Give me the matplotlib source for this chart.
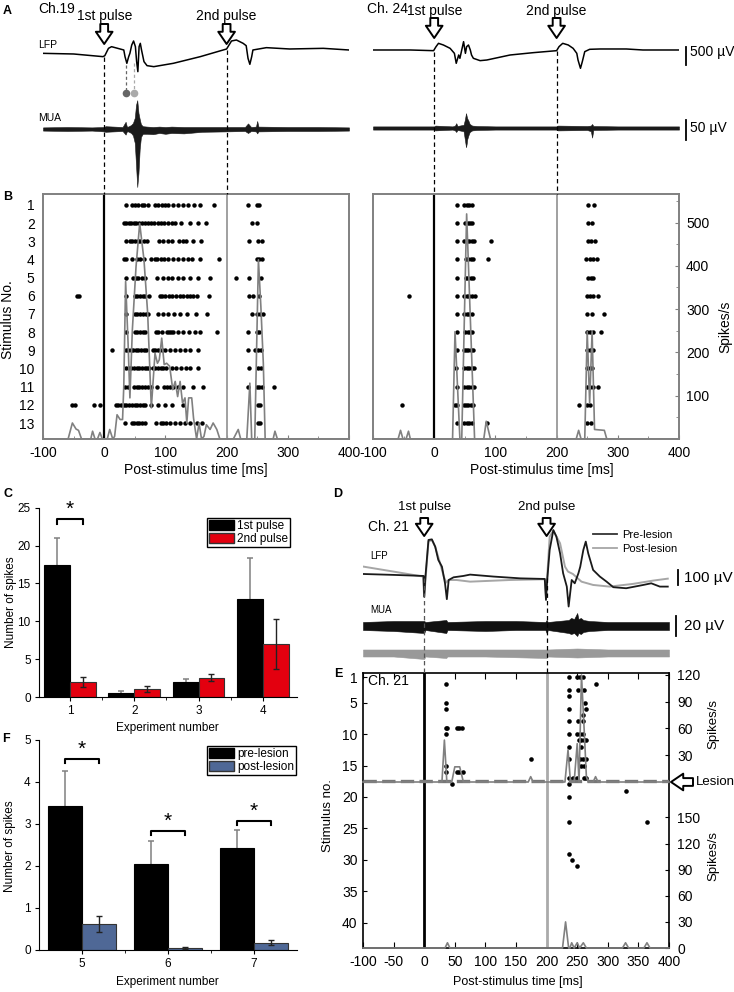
import matplotlib
matplotlib.use("Agg")
import matplotlib.pyplot as plt
import numpy as np
from matplotlib.patches import Patch
from matplotlib.lines import Line2D
from matplotlib.ticker import MultipleLocator

plt.rcParams['font.family'] = ['Liberation Sans', 'DejaVu Sans']
plt.rcParams['axes.unicode_minus'] = False

# ======================= DATA =======================
# Panel A: LFP traces (time in ms, amplitude in uV)
lfp19_t = [-100, -50, -2, 1, 7, 12, 26, 32, 34, 37, 40, 42, 45, 48, 51, 53, 55, 57, 59, 61, 65, 70, 81,
           113, 157, 200, 208, 216, 227, 232, 235, 238, 241, 243, 265, 303, 358, 400]
lfp19_v = [46, 28, -46, -19, 185, 231, 167, 139, -46, -231, -46, 46, 278, 389, 231, -185, -463, 231, 324,
           139, -185, -296, -324, -231, -46, 167, 389, 417, 324, 259, -93, -259, -46, 139, 204, 167, 185, 139]
lfp24_t = [-100, -39, -1, 3, 7, 15, 26, 33, 36, 40, 42, 45, 48, 51, 53, 56, 59, 61, 64, 75, 86, 124, 162,
           200, 204, 210, 219, 227, 233, 235, 239, 242, 246, 254, 271, 314, 341, 400]
lfp24_v = [0, 0, -19, 93, 185, 139, 46, -93, -370, -139, -231, 0, 231, -93, 93, 139, 0, -139, -231, -296,
           -278, -139, -74, -19, 93, 185, 139, 46, -93, -278, -509, -324, -46, 19, 28, 28, 0, 0]

# Panel A: MUA envelopes (uV)
mua19_t = [-100, -60, -20, 0, 2, 30, 35, 37, 39, 44, 47, 50, 52, 54, 56, 58, 60, 63, 70, 80, 90, 100, 110,
           130, 160, 200, 230, 235, 240, 248, 250, 252, 300, 350, 400]
mua19_hi = [4, 5, 4, 5, 7, 5, 18, 6, 6, 10, 15, 28, 60, 72, 40, 25, 12, 7, 6, 5, 6, 5, 6, 5, 5, 5, 5,
            14, 5, 6, 20, 6, 5, 5, 4]
mua19_lo = [-4, -5, -4, -6, -7, -5, -14, -6, -6, -10, -16, -35, -90, -145, -110, -50, -20, -12, -12, -13,
            -10, -12, -10, -11, -7, -6, -5, -10, -5, -6, -11, -6, -5, -5, -4]
mua24_t = [-100, -50, 0, 2, 30, 34, 36, 38, 48, 50, 52, 53, 54, 56, 58, 62, 70, 100, 150, 200, 202, 250,
           256, 258, 260, 300, 400]
mua24_hi = [4, 4, 4, 6, 4, 6, 12, 5, 8, 20, 37, 30, 24, 18, 10, 6, 5, 4, 4, 4, 6, 5, 6, 10, 5, 4, 4]
mua24_lo = [-4, -4, -4, -6, -4, -6, -10, -5, -8, -28, -48, -40, -28, -18, -10, -6, -5, -4, -4, -4, -6, -5,
            -8, -24, -5, -4, -4]
a_marker_times = [36, 49]

# Panel B: raster spike times (ms) per stimulus 1..13
b19_trials = [
    [35, 45, 50, 56, 61, 65, 72, 83, 88, 94, 99, 105, 113, 121, 129, 137, 146, 157, 180, 235, 249, 253],
    [32, 36, 40, 44, 48, 52, 57, 62, 66, 72, 77, 82, 88, 93, 98, 104, 110, 116, 126, 140, 153, 167, 242, 250],
    [35, 42, 46, 51, 55, 59, 65, 70, 90, 96, 104, 111, 122, 129, 134, 145, 158, 237, 251, 258],
    [32, 36, 46, 53, 58, 65, 77, 83, 87, 93, 98, 104, 113, 121, 129, 137, 143, 156, 187, 249, 253, 258],
    [36, 47, 52, 55, 61, 67, 86, 96, 104, 111, 121, 129, 140, 154, 173, 216, 237, 257],
    [-45, -41, 36, 50, 54, 58, 63, 67, 73, 91, 95, 100, 106, 110, 118, 124, 129, 135, 140, 145, 151, 172,
     237, 243, 253],
    [36, 50, 54, 58, 63, 68, 72, 88, 96, 104, 114, 124, 136, 150, 168, 241, 249, 254, 260],
    [36, 50, 54, 58, 63, 66, 84, 88, 94, 102, 106, 109, 113, 121, 129, 139, 148, 156, 184, 235, 249, 253],
    [13, 35, 39, 43, 47, 52, 55, 60, 65, 69, 79, 83, 88, 94, 99, 107, 115, 124, 132, 140, 154, 235, 246,
     251, 256],
    [35, 40, 44, 48, 53, 57, 61, 66, 70, 74, 79, 83, 88, 92, 96, 101, 110, 118, 126, 133, 140, 154, 237,
     251, 257],
    [34, 39, 48, 53, 57, 61, 66, 72, 77, 86, 97, 102, 107, 113, 121, 129, 145, 161, 235, 249, 253, 258, 277],
    [-52, -48, -17, -7, 19, 23, 28, 32, 36, 41, 45, 50, 54, 58, 63, 67, 77, 88, 99, 110, 129, 251, 255],
    [34, 45, 49, 53, 57, 61, 66, 84, 92, 96, 101, 107, 115, 124, 132, 141, 151, 159, 251, 255],
]
b24_trials = [
    [37, 49, 53, 57, 61, 251, 261],
    [37, 50, 55, 59, 62, 251, 258],
    [37, 49, 53, 57, 61, 65, 92, 251, 257, 262],
    [37, 52, 56, 60, 64, 88, 248, 254, 259, 266],
    [37, 52, 56, 60, 64, 251, 257, 260],
    [-41, 38, 49, 53, 57, 61, 66, 250, 255, 259, 268],
    [37, 49, 53, 57, 61, 250, 258, 277],
    [37, 50, 55, 59, 62, 250, 255, 259, 273],
    [37, 48, 52, 56, 60, 64, 250, 255, 259],
    [36, 49, 53, 57, 61, 65, 250, 254, 258],
    [37, 49, 53, 57, 61, 65, 250, 255, 259, 267],
    [-52, 34, 37, 48, 52, 56, 60, 64, 237, 250, 255],
    [37, 49, 53, 57, 61, 86, 250, 257],
]
# PSTHs (ms, spikes/s)
psth19_t = [-100, -59, -52, -46, -42, -37, -22, -19, -15, -11, -7, -3, 5, 9, 14, 17, 21, 26, 30, 32, 35, 39,
            42, 46, 52, 58, 65, 71, 77, 83, 87, 90, 94, 98, 102, 107, 112, 116, 120, 124, 128, 132, 135, 138,
            143, 146, 151, 155, 159, 163, 167, 173, 178, 184, 189, 211, 219, 223, 233, 238, 241, 246, 252,
            256, 260, 263, 276, 279, 283, 400]
psth19_r = [0, 0, 37, 23, 20, 0, 0, 18, 0, 0, 15, 0, 0, 22, 0, 6, 56, 45, 45, 122, 364, 222, 95, 252, 398,
            498, 414, 291, 72, 198, 175, 183, 233, 172, 175, 168, 114, 133, 98, 133, 83, 95, 37, 95, 95, 48,
            0, 37, 0, 6, 33, 22, 37, 22, 0, 0, 22, 0, 0, 129, 0, 0, 414, 306, 175, 0, 0, 18, 0, 0]
psth24_t = [-100, -59, -55, -51, -46, -42, -39, 30, 34, 42, 45, 53, 66, 81, 85, 92, 232, 236, 240, 246, 250,
            254, 258, 262, 278, 282, 400]
psth24_r = [0, 0, 20, 0, 0, 18, 0, 0, 248, 0, 0, 520, 0, 0, 41, 0, 0, 20, 0, 0, 248, 83, 248, 22, 20, 0, 0]

# Panel C: spikes per pulse
c_experiments = [1, 2, 3, 4]
c_first = [17.4, 0.55, 1.95, 13.0]
c_first_err = [3.6, 0.26, 0.45, 5.4]
c_second = [2.0, 1.1, 2.55, 6.95]
c_second_err = [0.7, 0.4, 0.5, 3.3]

# Panel D: LFP pre/post lesion (ms, uV)
d_pre_t = [-99, -50, -1, 0, 2, 7, 12.5, 18, 23, 29, 34, 37, 40, 48, 64, 75, 113, 157, 197, 199, 201, 205,
           211, 216, 222, 227, 233, 236, 241, 246, 252, 255, 260, 264, 268, 276, 287, 298, 309, 330, 358,
           371, 385, 398]
d_pre_v = [13, 7, 0, -138, -4, 240, 244, 195, 107, 62, -49, -155, -27, -9, 0, 9, -4, -16, -20, -160, -27,
           173, 306, 262, 151, 18, -71, -204, -27, -49, 18, 62, 173, 229, 151, 40, -4, -38, -75, -82, -60,
           -49, -71, -71]
d_post_t = [-99, -50, -2, 0, 7, 12.5, 18, 26, 32, 36, 40, 53, 75, 140, 197, 199, 205, 211, 222, 230, 235,
            243, 249, 257, 276, 303, 341, 374, 398]
d_post_v = [62, 29, -4, -138, 229, 240, 195, 84, -4, -44, -27, -27, -38, -27, -22, -138, 262, 302, 218, 62,
            29, 13, -9, -38, -60, -71, -53, -31, -18]
d_mua_pre_t = [-100, -50, 0, 2, 36, 38, 100, 150, 198, 200, 202, 236, 240, 245, 250, 252, 256, 260, 270,
               300, 400]
d_mua_pre_hi = [4, 5, 5, 4, 6, 4, 5, 5, 4, 6, 4, 6, 8, 7, 13, 7, 8, 6, 5, 4, 4]
d_mua_pre_lo = [-4, -5, -7, -4, -7, -4, -5, -4, -4, -7, -4, -7, -8, -7, -10, -7, -8, -6, -5, -4, -4]
d_mua_post_t = [-100, -50, 0, 2, 36, 38, 100, 200, 202, 250, 300, 400]
d_mua_post_hi = [3.5, 3.5, 3.5, 3.5, 3.5, 3.5, 3.5, 3.5, 3.5, 4.5, 3.5, 3.5]
d_mua_post_lo = [-3.5, -3.5, -6, -3.5, -5, -3.5, -3.5, -5, -3.5, -4.5, -3.5, -3.5]

# Panel E: raster (ms, stimulus no.) and PSTHs
e_spike_ms = [36, 36, 36, 35, 38, 36, 36, 36, 45, 53, 57, 61, 53, 57, 63, 174,
              236, 236, 236, 236, 236, 236, 236, 236, 236, 236, 236, 236, 236, 242, 250,
              250, 254, 259, 252, 261, 262, 264, 259, 252, 259, 250, 255, 260, 253, 257, 261, 265, 257,
              255, 259, 264, 257, 261, 243, 249, 261, 265, 281, 330, 364]
e_spike_trial = [2, 5, 6, 9, 9, 10, 15, 16, 18, 9, 9, 9, 16, 16, 16, 14,
                 1, 3, 4, 6, 8, 10, 12, 14, 17, 18, 20, 24, 29, 30, 31,
                 1, 1, 1, 3, 3, 5, 6, 7, 8, 8, 10, 10, 10, 11, 11, 11, 11, 12,
                 14, 14, 14, 15, 15, 17, 17, 17, 17, 2, 19, 24]
e_lesion_trial = 17
e_psth_pre_t = [-100, 29, 33, 37, 45, 50, 58, 64, 170, 174, 178, 230, 235, 239, 245, 250, 253, 257, 262,
                265, 268, 276, 280, 284, 400]
e_psth_pre_r = [0, 0, 47, 0, 0, 17, 17, 0, 0, 6, 0, 0, 36, 0, 0, 43, 0, 120, 50, 6, 0, 0, 6, 0, 0]
e_psth_post_t = [-100, 34, 38, 42, 226, 231, 236, 238, 241, 245, 250, 254, 260, 265, 324, 329, 334, 359,
                 364, 369, 400]
e_psth_post_r = [0, 0, 6, 0, 0, 30, 0, 0, 6, 0, 6, 0, 6, 0, 0, 6, 0, 0, 6, 0, 0]

# Panel F: pre vs post lesion
f_experiments = [5, 6, 7]
f_pre = [3.43, 2.05, 2.44]
f_pre_err = [0.83, 0.55, 0.41]
f_post = [0.62, 0.05, 0.17]
f_post_err = [0.2, 0.02, 0.06]

# ======================= FIGURE =======================
W, H = 734, 992
fig = plt.figure(figsize=(W / 100, H / 100), dpi=100)


def px(x0, y0, x1, y1):
    return [x0 / W, 1 - y1 / H, (x1 - x0) / W, (y1 - y0) / H]


def T(x, y, s, **kw):
    kw.setdefault('ha', 'center')
    kw.setdefault('va', 'center')
    fig.text(x / W, 1 - y / H, s, **kw)


def bare(ax):
    ax.set_xlim(-100, 400)
    ax.axis('off')


HOLLOW = dict(arrowstyle='simple,head_length=0.55,head_width=0.75,tail_width=0.35',
              fc='white', ec='black', lw=1.4, shrinkA=0, shrinkB=0, mutation_scale=16)


def col_overlay(x0, x1):
    ax = fig.add_axes(px(x0, 0, x1, H), zorder=20)
    ax.set_xlim(-100, 400)
    ax.set_ylim(H, 0)
    ax.axis('off')
    return ax


# ---------- Panel A ----------
for (t, v, mt, mhi, mlo, lfp_lim, mua_lim, x0, x1) in [
        (lfp19_t, lfp19_v, mua19_t, mua19_hi, mua19_lo, (-917, 750), (-157.5, 92.5), 43, 349),
        (lfp24_t, lfp24_v, mua24_t, mua24_hi, mua24_lo, (-1056, 611), (-160, 90), 373, 679)]:
    axl = fig.add_axes(px(x0, 28, x1, 88))
    bare(axl)
    axl.set_ylim(*lfp_lim)
    axl.plot(t, v, color='black', lw=1.1)
    axm = fig.add_axes(px(x0, 92, x1, 192))
    bare(axm)
    axm.set_ylim(*mua_lim)
    axm.fill_between(mt, mlo, mhi, facecolor='#1a1a1a', edgecolor='#1a1a1a', lw=0.4)
    if x0 > 300:
        axl.plot([411, 411], [-417, 83], color='black', lw=1.3, clip_on=False)
        axm.plot([411, 411], [-30, 20], color='black', lw=1.3, clip_on=False)

T(7.5, 11, 'A', weight='bold', fontsize=9)
T(38, 9, 'Ch.19', ha='left', fontsize=10)
T(38, 45, 'LFP', ha='left', fontsize=7.5)
T(38, 118, 'MUA', ha='left', fontsize=7.5)
T(367, 9, 'Ch. 24', ha='left', fontsize=10)
T(690, 52, '500 µV', ha='left', fontsize=10)
T(690, 128, '50 µV', ha='left', fontsize=10)

ovL = col_overlay(43, 349)
ovL.text(0, 16, '1st pulse', ha='center', va='center', fontsize=10)
ovL.text(200, 16, '2nd pulse', ha='center', va='center', fontsize=10)
ovL.annotate('', xy=(0, 44), xytext=(0, 24), arrowprops=HOLLOW)
ovL.annotate('', xy=(200, 44), xytext=(200, 24), arrowprops=HOLLOW)
ovL.plot([0, 0], [57, 194], color='black', lw=0.9, dashes=(3.5, 2.5))
ovL.plot([200, 200], [50, 194], color='black', lw=0.9, dashes=(3.5, 2.5))
for mtime, col, ytop in zip(a_marker_times, ['#666666', '#aaaaaa'], [65, 63]):
    ovL.plot([mtime, mtime], [ytop, 93], color=col, lw=0.9, dashes=(2.5, 2))
    ovL.plot([mtime], [93], 'o', ms=5.5, color=col, mec='none')

ovR = col_overlay(373, 679)
ovR.text(0, 11, '1st pulse', ha='center', va='center', fontsize=10)
ovR.text(200, 11, '2nd pulse', ha='center', va='center', fontsize=10)
ovR.annotate('', xy=(0, 38), xytext=(0, 18), arrowprops=HOLLOW)
ovR.annotate('', xy=(200, 38), xytext=(200, 18), arrowprops=HOLLOW)
ovR.plot([0, 0], [52, 194], color='black', lw=0.9, dashes=(3.5, 2.5))
ovR.plot([200, 200], [51, 194], color='black', lw=0.9, dashes=(3.5, 2.5))

# ---------- Panel B ----------
for trials, pt, pr, x0, x1, is_left in [(b19_trials, psth19_t, psth19_r, 43, 349, True),
                                        (b24_trials, psth24_t, psth24_r, 373, 679, False)]:
    ax = fig.add_axes(px(x0, 194, x1, 439))
    for i, spikes in enumerate(trials, start=1):
        ax.plot(spikes, [i] * len(spikes), 'o', ms=3.2, color='black', mec='none')
    ax.axvline(0, color='black', lw=1.6)
    ax.axvline(200, color='#999999', lw=1.3)
    ax.set_xlim(-100, 400)
    ax.set_ylim(13.88, 0.4)
    ax.xaxis.set_major_locator(MultipleLocator(100))
    ax.xaxis.set_minor_locator(MultipleLocator(50))
    ax.tick_params(axis='x', which='both', direction='in', labelsize=10, pad=5, color='#808080')
    ax.tick_params(axis='x', which='major', length=3)
    ax.tick_params(axis='x', which='minor', length=2)
    if is_left:
        ax.set_yticks(range(1, 14))
        ax.tick_params(axis='y', length=0, pad=6, labelsize=10)
    else:
        ax.set_yticks([])
    ax2 = ax.twinx()
    ax2.plot(pt, pr, color='#808080', lw=1.2)
    ax2.set_ylim(0, 566)
    if is_left:
        ax2.set_yticks([])
    else:
        ax2.set_yticks([100, 200, 300, 400, 500])
        ax2.yaxis.set_minor_locator(MultipleLocator(50))
        ax2.tick_params(axis='y', which='both', direction='in', labelsize=10, pad=5, color='#808080')
        ax2.tick_params(axis='y', which='major', length=3)
        ax2.tick_params(axis='y', which='minor', length=2)
    for a in (ax, ax2):
        for s in a.spines.values():
            s.set_color('#808080')
            s.set_linewidth(1.2)

T(7.5, 197, 'B', weight='bold', fontsize=9)
T(8, 320, 'Stimulus No.', rotation=90, fontsize=10)
T(196, 470, 'Post-stimulus time [ms]', fontsize=10)
T(542, 470, 'Post-stimulus time [ms]', fontsize=10)
T(725, 327, 'Spikes/s', rotation=90, fontsize=10)


# ---------- Panel C & F ----------
def bar_panel(pos, xs, a, a_err, b, b_err, col_b, xlim, ylim, yticks, labels, leg_anchor):
    ax = fig.add_axes(px(*pos))
    xs = np.array(xs, dtype=float)
    ax.bar(xs - 0.2, a, 0.4, color='black', edgecolor='black', lw=0.8, zorder=2)
    ax.bar(xs + 0.2, b, 0.4, color=col_b, edgecolor='#333333', lw=0.8, zorder=2)
    eb = ax.errorbar(xs - 0.2, a, yerr=[np.zeros(len(a)), a_err], fmt='none', ecolor='#808080',
                     elinewidth=1.1, capsize=2.5, capthick=1.1, zorder=1)
    eb[1][0].set_visible(False)
    ax.errorbar(xs + 0.2, b, yerr=b_err, fmt='none', ecolor='#222222', elinewidth=1.0,
                capsize=2.5, capthick=1.0, zorder=3)
    ax.set_xlim(*xlim)
    ax.set_ylim(*ylim)
    ax.set_yticks(yticks)
    ax.set_xticks(xs)
    ax.set_xticks((xs[:-1] + xs[1:]) / 2, minor=True)
    ax.spines['top'].set_visible(False)
    ax.spines['right'].set_visible(False)
    ax.tick_params(axis='both', which='major', direction='out', length=3, labelsize=8.5, pad=3)
    ax.tick_params(axis='x', which='minor', direction='out', length=2.5)
    handles = [Patch(facecolor='black', edgecolor='black'), Patch(facecolor=col_b, edgecolor='#333333')]
    ax.legend(handles, labels, loc='upper left', bbox_to_anchor=leg_anchor, bbox_transform=fig.transFigure,
              fontsize=8.5, frameon=True, fancybox=False, edgecolor='black', framealpha=1,
              borderpad=0.15, borderaxespad=0, handlelength=2.1, handleheight=1.0,
              handletextpad=0.3, labelspacing=0.05)
    return ax


axC = bar_panel((39, 507.7, 297, 697), c_experiments, c_first, c_first_err, c_second, c_second_err,
                '#e3000f', (0.52, 4.53), (0, 25), [0, 5, 10, 15, 20, 25], ['1st pulse', '2nd pulse'],
                (207 / W, 1 - 518 / H))
axC.plot([0.8, 0.8, 1.2, 1.2], [22.9, 23.5, 23.5, 22.9], color='black', lw=1.5)
axC.text(1.0, 23.5, '*', ha='center', va='bottom', fontsize=15)

axF = bar_panel((39, 740, 297, 950), f_experiments, f_pre, f_pre_err, f_post, f_post_err,
                '#4f6896', (4.5, 7.5), (0, 5), [0, 1, 2, 3, 4, 5], ['pre-lesion', 'post-lesion'],
                (207 / W, 1 - 746 / H))
for xc, yb in zip(f_experiments, [4.55, 2.83, 3.07]):
    axF.plot([xc - 0.2, xc - 0.2, xc + 0.2, xc + 0.2], [yb - 0.1, yb, yb, yb - 0.1], color='black', lw=1.5)
    axF.text(xc, yb, '*', ha='center', va='bottom', fontsize=15)

T(7.5, 494, 'C', weight='bold', fontsize=9)
T(167, 728, 'Experiment number', fontsize=8.5)
T(11, 602, 'Number of spikes', rotation=90, fontsize=8.5)
T(6, 739, 'F', weight='bold', fontsize=9)
T(167, 982, 'Experiment number', fontsize=8.5)
T(10, 846, 'Number of spikes', rotation=90, fontsize=8.5)

# ---------- Panel D ----------
axD = fig.add_axes(px(363, 520, 669, 610))
bare(axD)
axD.set_ylim(-227, 373)
axD.plot(d_post_t, d_post_v, color='#a6a6a6', lw=1.4)
axD.plot(d_pre_t, d_pre_v, color='#1a1a1a', lw=1.3)
axD.plot([414, 414], [-60, 40], color='black', lw=1.3, clip_on=False)
axD.legend([Line2D([], [], color='#333333', lw=1.3), Line2D([], [], color='#a6a6a6', lw=1.3)],
           ['Pre-lesion', 'Post-lesion'], loc='center left', bbox_to_anchor=(593 / W, 1 - 542 / H),
           bbox_transform=fig.transFigure, frameon=False, fontsize=8, handlelength=2.2,
           handletextpad=0.4, borderpad=0, borderaxespad=0, labelspacing=0.35)

axDM = fig.add_axes(px(363, 605, 669, 665))
bare(axDM)
axDM.set_ylim(-39, 21)
axDM.fill_between(d_mua_pre_t, d_mua_pre_lo, d_mua_pre_hi, facecolor='#111111', edgecolor='#111111', lw=0.4)
axDM.fill_between(d_mua_post_t, np.array(d_mua_post_lo) - 27, np.array(d_mua_post_hi) - 27,
                  facecolor='#999999', edgecolor='#999999', lw=0.4)
axDM.plot([411, 411], [-10, 10], color='black', lw=1.3, clip_on=False)

ovD = col_overlay(363, 669)
ovD.text(0, 507, '1st pulse', ha='center', va='center', fontsize=9.5)
ovD.text(200, 507, '2nd pulse', ha='center', va='center', fontsize=9.5)
ovD.annotate('', xy=(0, 536), xytext=(0, 518), arrowprops=HOLLOW)
ovD.annotate('', xy=(200, 536), xytext=(200, 518), arrowprops=HOLLOW)
ovD.plot([0, 0], [578, 673], color='#555555', lw=0.9, dashes=(3.5, 2.5))
ovD.plot([200, 200], [578, 673], color='black', lw=0.9, dashes=(3.5, 2.5))

T(338, 494, 'D', weight='bold', fontsize=9)
T(368, 527, 'Ch. 21', ha='left', fontsize=10)
T(370, 556, 'LFP', ha='left', fontsize=7)
T(370, 610, 'MUA', ha='left', fontsize=7)
T(684, 578, '100 µV', ha='left', fontsize=11)
T(684, 626, '20 µV', ha='left', fontsize=11)

# ---------- Panel E ----------
axE = fig.add_axes(px(363, 673, 669, 948))
axE.plot(e_spike_ms, e_spike_trial, 'o', ms=3.3, color='black', mec='none', zorder=3)
axE.axvline(0, color='black', lw=2.0)
axE.axvline(200, color='#aaaaaa', lw=2.0)
axE.axhline(e_lesion_trial + 0.5, color='#777777', lw=2.4, dashes=(4, 1.6), zorder=4)
axE.set_xlim(-100, 400)
axE.set_ylim(44.0, 0.3)
axE.xaxis.set_major_locator(MultipleLocator(50))
axE.set_yticks([1, 5, 10, 15, 20, 25, 30, 35, 40])
axE.tick_params(axis='x', direction='in', length=4, top=True, labelsize=10, pad=5)
axE.tick_params(axis='y', direction='in', length=3, labelsize=10, pad=4)
for s in axE.spines.values():
    s.set_linewidth(1.2)

for pos, tt, rr, ylim, ticks in [((363, 673, 669, 782), e_psth_pre_t, e_psth_pre_r, (0, 122.2),
                                  [30, 60, 90, 120]),
                                 ((363, 782, 669, 948), e_psth_post_t, e_psth_post_r, (0, 190.8),
                                  [0, 30, 60, 90, 120, 150])]:
    a = fig.add_axes(px(*pos))
    a.patch.set_visible(False)
    for s in a.spines.values():
        s.set_visible(False)
    a.plot(tt, rr, color='#808080', lw=1.2, clip_on=False, zorder=5)
    a.set_xlim(-100, 400)
    a.set_ylim(*ylim)
    a.set_xticks([])
    a.yaxis.tick_right()
    a.set_yticks(ticks)
    a.tick_params(axis='y', direction='in', length=3, labelsize=10, pad=6)

ov = fig.add_axes([0, 0, 1, 1], zorder=30)
ov.set_xlim(0, W)
ov.set_ylim(H, 0)
ov.axis('off')
ov.annotate('', xy=(671, 782), xytext=(693, 782), arrowprops=HOLLOW)

T(338, 674, 'E', weight='bold', fontsize=9)
T(368, 681, 'Ch. 21', ha='left', fontsize=10)
T(696, 782, 'Lesion', ha='left', fontsize=9.5)
T(713, 724, 'Spikes/s', rotation=90, fontsize=9.5)
T(713, 856, 'Spikes/s', rotation=90, fontsize=9.5)
T(328, 816, 'Stimulus no.', rotation=90, fontsize=9.5)
T(518, 982, 'Post-stimulus time [ms]', fontsize=9)

fig.savefig('out.png', dpi=100)
